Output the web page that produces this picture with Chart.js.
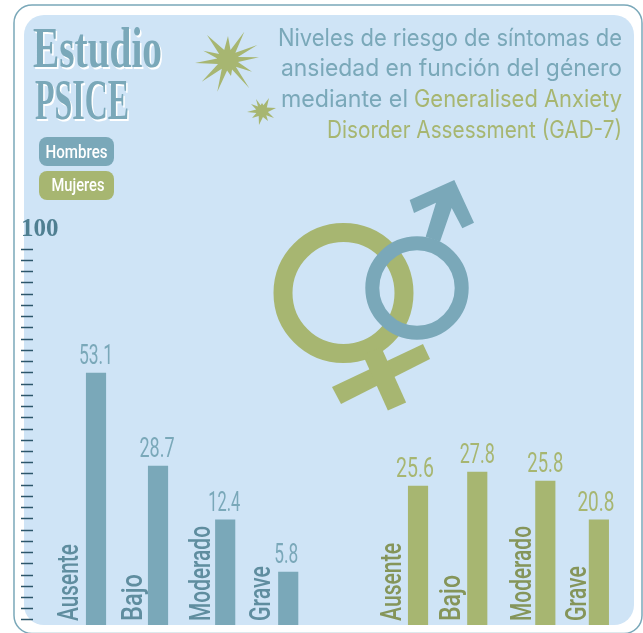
<!DOCTYPE html>
<html lang="es">
<head>
<meta charset="utf-8">
<title>Estudio PSICE</title>
<script src="https://cdn.jsdelivr.net/npm/chart.js@4"></script>
<style>
html,body{margin:0;padding:0;background:#fff;overflow:hidden}
canvas{display:block}
</style>
</head>
<body>
<canvas id="c" width="643" height="633"></canvas>
<script>
// ---- data ----
const categories = ["Ausente", "Bajo", "Moderado", "Grave"];
const seriesNames = ["Hombres", "Mujeres"];
// figures printed above the bars
const hombresLabels = [53.1, 28.7, 12.4, 5.8];
const mujeresLabels = [25.6, 27.8, 25.8, 20.8];
// bar heights as read against the 0-100 axis ticks (the source does not draw them in proportion to the printed figures)
const hombresHeights = [66.6, 41.5, 27, 12.9];
const mujeresHeights = [36.1, 39.9, 37.5, 27];
const axisTop = 100;
const axisMarks = 33;

// ---- layout in x-axis slots ----
const hombresSlots = [0, 0.984, 2.05, 3.05];
const mujeresSlots = [5.11, 6.05, 7.13, 7.98];

// ---- style ----
const BLUE = "#7aa8b9", GREEN = "#a7b671", PANEL = "#cfe4f6";
const BLUE_DARK = "#5f8d9f", GREEN_DARK = "#85955a", TICK = "#2c566a";
const NARROW = 'Roboto', SERIF = '"Liberation Serif"', TITLE = 'Inter';

const catOffset = [[27,25.4,24,27],[26,26.7,23.7,22]];
const catLength = [[77,47,95,55],[78,46,95,55]];
const valWidth = [[34,35,32,24],[38,35,36,37]];
const valShift = [[0,-1,-1,-2],[-3,0,0,-3]];

function fit(ctx, text, x, y, font, width, align, color, rot) {
  ctx.save();
  ctx.font = font;
  ctx.fillStyle = color;
  ctx.textBaseline = "alphabetic";
  ctx.textAlign = "left";
  const w = ctx.measureText(text).width;
  ctx.translate(x, y);
  if (rot) ctx.rotate(rot);
  ctx.scale(width / w, 1);
  const dx = align === "right" ? -w : align === "center" ? -w / 2 : 0;
  ctx.fillText(text, dx, 0);
  ctx.restore();
}
function rr(ctx, x, y, w, h, r) {
  ctx.beginPath();
  ctx.roundRect(x, y, w, h, r);
}
function star(ctx, cx, cy, tips, inner, color) {
  ctx.beginPath();
  const a = tips.map(p => Math.atan2(p[1] - cy, p[0] - cx));
  tips.forEach((p, i) => {
    ctx.lineTo(p[0], p[1]);
    let next = a[(i + 1) % a.length];
    if (next < a[i]) next += Math.PI * 2;
    const m = (a[i] + next) / 2;
    ctx.lineTo(cx + inner * Math.cos(m), cy + inner * Math.sin(m));
  });
  ctx.closePath();
  ctx.fillStyle = color;
  ctx.fill();
}

const decorations = {
  id: "decorations",
  beforeDraw(chart) {
    const ctx = chart.ctx;
    ctx.save();
    ctx.fillStyle = "#fff";
    ctx.fillRect(0, 0, 643, 633);
    rr(ctx, 14, 5, 628, 628.5, 18);
    ctx.strokeStyle = BLUE; ctx.lineWidth = 1.5; ctx.stroke();
    rr(ctx, 24, 15, 610, 610, 20);
    ctx.fillStyle = PANEL; ctx.fill();

    // gender symbols
    ctx.strokeStyle = GREEN; ctx.lineWidth = 19;
    ctx.beginPath(); ctx.arc(343.5, 293, 60.5, 0, Math.PI * 2); ctx.stroke();
    ctx.fillStyle = GREEN;
    ctx.beginPath();
    [[332,387],[341,404],[430,359],[423,344]].forEach(p => ctx.lineTo(p[0], p[1]));
    ctx.closePath(); ctx.fill();
    ctx.lineWidth = 20; ctx.beginPath(); ctx.moveTo(372, 351); ctx.lineTo(397, 406.5); ctx.stroke();

    ctx.strokeStyle = BLUE; ctx.lineWidth = 14;
    ctx.beginPath(); ctx.arc(417, 288, 44.7, 0, Math.PI * 2); ctx.stroke();
    ctx.fillStyle = BLUE;
    ctx.beginPath();
    [[409.7,200],[454.3,180],[474,222.7],[462.3,228.3],[451.7,208],[440,241.7],[425.7,236.7],[436,202.7],[414,213]]
      .forEach(p => ctx.lineTo(p[0], p[1]));
    ctx.closePath(); ctx.fill();

    // stars
    star(ctx, 227.7, 60,
      [[244.3,31.7],[257.3,45],[259,57.3],[252,71.7],[249.3,88.3],[231,76],[217.3,91.7],[201.7,81.7],[195,63],[203.3,50.7],[207,35],[228,36]],
      10.5, GREEN);
    star(ctx, 262, 111,
      [[269,98],[276,108],[274,118],[268,121],[259,125],[252,118],[247,112],[251,104],[256,99],[262,103]],
      6, GREEN);

    // heading
    const hf = "bold 58px " + SERIF;
    fit(ctx, "Estudio", 34.5, 68.5, hf, 129, "left", "#fff");
    fit(ctx, "Estudio", 33, 67, hf, 129, "left", BLUE);
    fit(ctx, "PSICE", 36.5, 120.5, hf, 94, "left", "#fff");
    fit(ctx, "PSICE", 35, 119, hf, 94, "left", BLUE);

    // title
    const tf = "24px " + TITLE;
    fit(ctx, "Niveles de riesgo de síntomas de", 622, 46, tf, 344, "right", BLUE);
    fit(ctx, "ansiedad en función del género", 622, 76, tf, 341, "right", BLUE);
    fit(ctx, "mediante el", 281, 107, tf, 127, "left", BLUE);
    fit(ctx, "Generalised Anxiety", 622, 107, tf, 208, "right", GREEN);
    fit(ctx, "Disorder Assessment (GAD-7)", 622, 138, tf, 295, "right", GREEN);

    // legend
    rr(ctx, 39, 137, 75, 29, 8); ctx.fillStyle = BLUE; ctx.fill();
    rr(ctx, 39, 171, 75, 29, 8); ctx.fillStyle = GREEN; ctx.fill();
    fit(ctx, seriesNames[0], 45.5, 158, "500 19px " + NARROW, 62, "left", "#fff");
    fit(ctx, seriesNames[1], 51.5, 191, "500 19px " + NARROW, 53, "left", "#fff");
    ctx.restore();
  },
  afterDatasetsDraw(chart) {
    const ctx = chart.ctx;
    const printed = [hombresLabels, mujeresLabels];
    const colors = [BLUE, GREEN], darks = [BLUE_DARK, GREEN_DARK];
    chart.data.datasets.forEach((ds, d) => {
      chart.getDatasetMeta(d).data.forEach((bar, i) => {
        fit(ctx, String(printed[d][i]), bar.x + valShift[d][i], bar.y - 9,
            "28px " + NARROW, valWidth[d][i], "center", colors[d]);
        fit(ctx, categories[i], bar.x - catOffset[d][i] + 9, 621,
            "500 30px " + NARROW, catLength[d][i], "left", darks[d], -Math.PI / 2);
      });
    });
  }
};

const toPoints = (slots, heights) => slots.map((x, i) => ({ x: x, y: heights[i] }));
const axisValues = [];
for (let i = 0; i <= axisMarks; i++) axisValues.push(axisTop * i / axisMarks);

new Chart(document.getElementById("c"), {
  type: "bar",
  data: {
    datasets: [
      { label: seriesNames[0], data: toPoints(hombresSlots, hombresHeights), backgroundColor: BLUE, barThickness: 19.5, grouped: false, base: -1.35 },
      { label: seriesNames[1], data: toPoints(mujeresSlots, mujeresHeights), backgroundColor: GREEN, barThickness: 19.5, grouped: false, base: -1.35 }
    ]
  },
  options: {
    responsive: false,
    animation: false,
    events: [],
    layout: { padding: { left: 21, top: 249.3, bottom: 8, right: 0 } },
    plugins: { legend: { display: false }, tooltip: { enabled: false }, title: { display: false } },
    scales: {
      x: { type: "linear", display: false, offset: false, min: -1, max: 8.68 },
      y: {
        min: -1.35, max: axisTop,
        afterBuildTicks(s) { s.ticks = axisValues.map(v => ({ value: v })); },
        afterFit(s) { s.width = 12; },
        border: { display: false },
        grid: { drawOnChartArea: false, drawTicks: true, tickLength: 12, tickColor: TICK, tickWidth: 1.5 },
        ticks: {
          autoSkip: false, mirror: true, padding: -12, labelOffset: -20,
          color: "#4f7f91", font: { family: "Liberation Serif", size: 25, weight: "bold" },
          callback: v => (v === axisTop ? String(axisTop) : "")
        }
      }
    }
  },
  plugins: [decorations]
});
</script>
</body>
</html>
